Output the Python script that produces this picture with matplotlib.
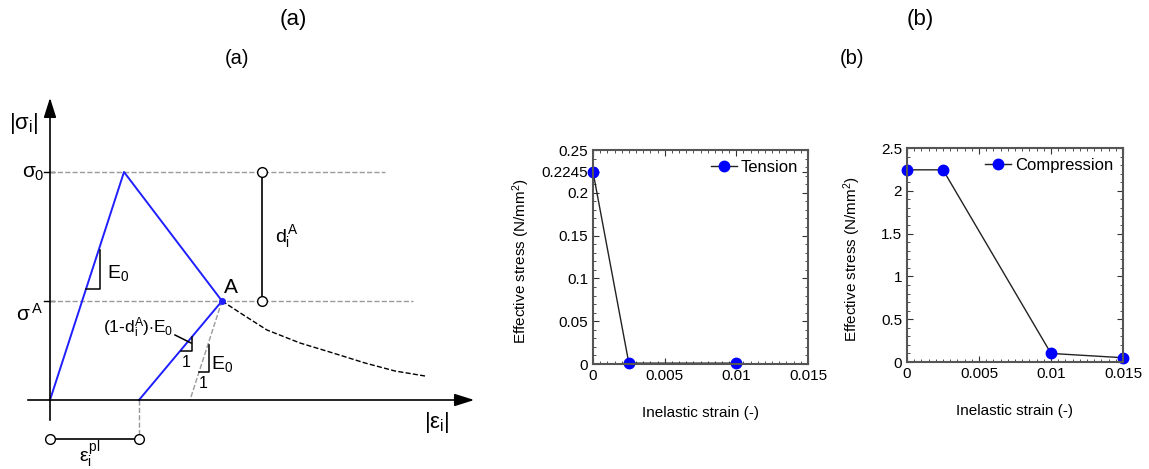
import numpy as np
import matplotlib
matplotlib.use('Agg')
import matplotlib.pyplot as plt
from matplotlib.ticker import MultipleLocator

plt.rcParams['font.family'] = ['Liberation Sans', 'DejaVu Sans']
plt.rcParams['mathtext.fontset'] = 'custom'
plt.rcParams['mathtext.rm'] = 'Liberation Sans'
plt.rcParams['mathtext.it'] = 'Liberation Sans'
plt.rcParams['mathtext.bf'] = 'Liberation Sans:bold'

#==========================================================
# data
#==========================================================
# schematic (a): strain / stress in drawing units
sig0 = 228
sigA = 99
path_x = [0, 74, 172, 89]          # origin -> peak -> A -> unloaded
path_y = [0, sig0, sigA, 0]
eps_pl = 89
e0_foot = 140                      # foot of E0 line from A
soft_x = [172, 195, 217, 250, 283, 315, 345, 375]
soft_y = [99, 84, 70, 57, 47, 37, 29, 24]

# (b) tension / compression curves
t_strain = [0, 0.0025, 0.01]
t_stress = [0.2245, 0.001, 0.001]
c_strain = [0, 0.0025, 0.01, 0.015]
c_stress = [2.245, 2.245, 0.1, 0.05]
x_ticks = [0, 0.005, 0.01, 0.015]
x_labels = ['0', '0.005', '0.01', '0.015']
t_yticks = [0, 0.05, 0.1, 0.15, 0.2, 0.2245, 0.25]
t_ylabels = ['0', '0.05', '0.1', '0.15', '0.2', '0.2245', '0.25']
c_yticks = [0, 0.5, 1, 1.5, 2, 2.5]
c_ylabels = ['0', '0.5', '1', '1.5', '2', '2.5']

#==========================================================
# figure
#==========================================================
W, H = 1149, 469
fig = plt.figure(figsize=(W/100, H/100), dpi=100)

fig.text(293/W, 1-19/H, '(a)', fontsize=16, ha='center', va='center')
fig.text(920/W, 1-19/H, '(b)', fontsize=16, ha='center', va='center')
fig.text(237/W, 1-58/H, '(a)', fontsize=14.5, ha='center', va='center')
fig.text(852/W, 1-58/H, '(b)', fontsize=14.5, ha='center', va='center')

#----------------------------------------------------------
# (a) schematic
#----------------------------------------------------------
ax = fig.add_axes([0, 0, 480/W, 1])
ax.set_xlim(-50, 430)
ax.set_ylim(-69, 400)
ax.axis('off')

grey = '#9a9a9a'
# axes with arrows
ax.annotate('', xy=(0, 305), xytext=(0, -23),
            arrowprops=dict(arrowstyle='-|>,head_length=1.2,head_width=0.38',
                            color='black', lw=1.2))
ax.annotate('', xy=(427, 0), xytext=(-25, 0),
            arrowprops=dict(arrowstyle='-|>,head_length=1.2,head_width=0.38',
                            color='black', lw=1.2))
# ticks on stress axis
ax.plot([-6, 4], [sig0, sig0], color='black', lw=1)
ax.plot([-6, 4], [sigA, sigA], color='black', lw=1)

# guide lines
ax.plot([0, 335], [sig0, sig0], ls='--', color=grey, lw=1)
ax.plot([0, 363], [sigA, sigA], ls='--', color=grey, lw=1)
ax.plot([path_x[2], e0_foot], [sigA, 0], ls='--', color=grey, lw=1)
ax.plot([eps_pl, eps_pl], [0, -39], ls='--', color=grey, lw=1)

# softening branch
ax.plot(soft_x, soft_y, ls='--', color='black', lw=1)

# loading / unloading path
ax.plot(path_x, path_y, color='#1f1fff', lw=1.4)
ax.plot(path_x[2], path_y[2], 'o', color='#1f1fff', ms=4)

# damage dimension
ax.plot([212, 212], [sig0, sigA], color='black', lw=1.2)
ax.plot([212, 212], [sig0, sigA], 'o', mfc='white', mec='black', ms=7, mew=1)
# plastic strain dimension
ax.plot([0, eps_pl], [-39, -39], color='black', lw=1.2)
ax.plot([0, eps_pl], [-39, -39], 'o', mfc='white', mec='black', ms=7, mew=1)

# slope triangles
ax.plot([36, 50, 50], [111, 111, 150], color='black', lw=1.1)
ax.plot([131, 142, 142], [49, 49, 63], color='black', lw=1.1)
ax.plot([149, 159, 159], [28, 28, 55], color='black', lw=1.1)
ax.plot([125, 141], [65, 57], color='black', lw=1.1)

fs = 14
ax.text(-26, 277, r'$|\sigma_{\rm i}|$', fontsize=16, ha='center', va='center')
ax.text(-5, 227, r'$\sigma_0$', fontsize=15, ha='right', va='center')
ax.text(-6, 86, r'$\sigma^{\,A}$', fontsize=15, ha='right', va='center')
ax.text(174, 113, 'A', fontsize=15, ha='left', va='center')
ax.text(225, 163, r'$d_i^A$', fontsize=fs, ha='left', va='center')
ax.text(57, 127, r'$E_0$', fontsize=fs, ha='left', va='center')
ax.text(123, 72, r'(1-d$_i^A$)$\cdot$E$_0$', fontsize=12.5, ha='right', va='center')
ax.text(136, 38, '1', fontsize=11.5, ha='center', va='center')
ax.text(153, 17, '1', fontsize=11.5, ha='center', va='center')
ax.text(161, 36, r'$E_0$', fontsize=fs, ha='left', va='center')
ax.text(387, -22, r'$|\varepsilon_{\rm i}|$', fontsize=16, ha='center', va='center')
ax.text(40, -55, r'$\varepsilon_i^{pl}$', fontsize=fs, ha='center', va='center')

#----------------------------------------------------------
# (b) curves
#----------------------------------------------------------
def style(a):
    for s in a.spines.values():
        s.set_color('#555555')
        s.set_linewidth(1.5)
    a.tick_params(which='both', direction='in', top=True, right=True,
                  labelsize=11, color='#333333')
    a.tick_params(which='major', length=4)
    a.tick_params(which='minor', length=2)
    a.set_xlim(0, 0.015)
    a.set_xticks(x_ticks)
    a.set_xticklabels(x_labels)
    a.xaxis.set_minor_locator(MultipleLocator(0.0005))
    a.set_xlabel('Inelastic strain (-)', fontsize=11)
    a.xaxis.set_label_coords(0.5, -0.195)
    a.set_ylabel('Effective stress (N/mm$^2$)', fontsize=11)

ax_t = fig.add_axes([593/W, (H-364)/H, 215/W, 214/H])
ax_t.plot(t_strain, t_stress, color='#222222', lw=1, marker='o', ms=7.5,
          mfc='blue', mec='blue', label='Tension', clip_on=False)
style(ax_t)
ax_t.set_ylim(0, 0.25)
ax_t.set_yticks(t_yticks)
ax_t.set_yticklabels(t_ylabels)
ax_t.yaxis.set_minor_locator(MultipleLocator(0.01))
ax_t.yaxis.set_label_coords(-0.284, 0.48)
ax_t.legend(loc='upper right', frameon=False, fontsize=12, handlelength=1.6,
            handletextpad=0.2, borderaxespad=0.2)

ax_c = fig.add_axes([907/W, (H-362)/H, 216/W, 214/H])
ax_c.plot(c_strain, c_stress, color='#222222', lw=1, marker='o', ms=7.5,
          mfc='blue', mec='blue', label='Compression', clip_on=False)
style(ax_c)
ax_c.set_ylim(0, 2.5)
ax_c.set_yticks(c_yticks)
ax_c.set_yticklabels(c_ylabels)
ax_c.yaxis.set_minor_locator(MultipleLocator(0.1))
ax_c.yaxis.set_label_coords(-0.204, 0.48)
ax_c.legend(loc='upper right', frameon=False, fontsize=12, handlelength=1.6,
            handletextpad=0.2, borderaxespad=0.2)

plt.savefig('out.png', dpi=100)
plt.close()
